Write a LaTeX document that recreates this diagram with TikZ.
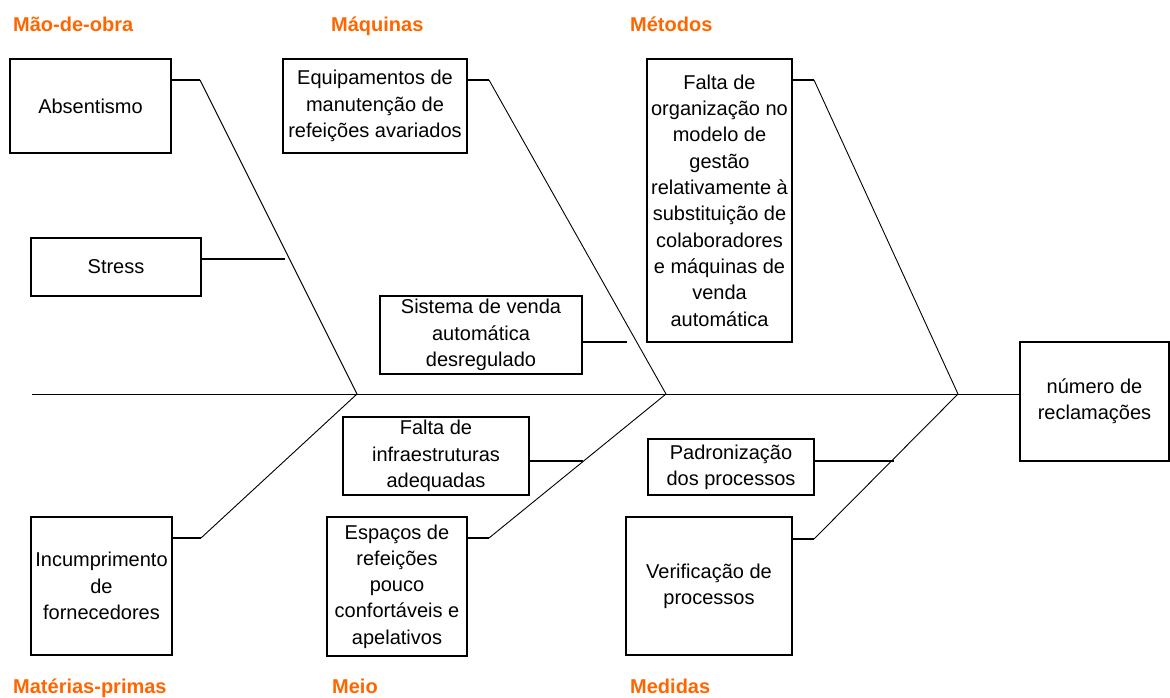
\documentclass[tikz,border=0pt]{standalone}
\usepackage{fontspec}
\setmainfont{Liberation Sans}
\definecolor{catorange}{RGB}{255,102,0}
\begin{document}
\begin{tikzpicture}[x=1pt,y=-1pt,
  box/.style={draw=black,line width=1.5pt,inner sep=0pt,align=center,
    font=\fontsize{20}{26.3}\selectfont},
  cat/.style={anchor=base west,inner sep=0pt,text=catorange,
    font=\fontsize{20}{24}\selectfont\bfseries},
  stub/.style={line width=1.4pt},
  bone/.style={line width=0.9pt}]
\useasboundingbox (0,0) rectangle (1170,698);
% category labels
\node[cat] (l1) at (13,32) {Mão-de-obra};
\node[cat] (l2) at (331,32) {Máquinas};
\node[cat] (l3) at (630,32) {Métodos};
\node[cat] (l4) at (13,693) {Matérias-primas};
\node[cat] (l5) at (332,693) {Meio};
\node[cat] (l6) at (630,693) {Medidas};
% boxes
\node[box,minimum width=161pt,minimum height=94pt] (abs) at (90.5,106) {Absentismo};
\node[box,minimum width=170pt,minimum height=58pt] (str) at (116,267) {Stress};
\node[box,minimum width=184pt,minimum height=94pt] (equ) at (375,106) {Equipamentos de\\manutenção de\\refeições avariados};
\node[box,minimum width=202pt,minimum height=78pt] (sis) at (481,335) {Sistema de venda\\automática\\desregulado};
\node[box,minimum width=145pt,minimum height=283pt] (org) at (719.5,200.5) {Falta de\\organização no\\modelo de\\gestão\\relativamente à\\substituição de\\colaboradores\\e máquinas de\\venda\\automática};
\node[box,minimum width=149pt,minimum height=119pt] (res) at (1094.5,401.5) {número de\\reclamações};
\node[box,minimum width=186pt,minimum height=78pt] (inf) at (436,456) {Falta de\\infraestruturas\\adequadas};
\node[box,minimum width=166pt,minimum height=56pt] (pad) at (731,467) {Padronização\\dos processos};
\node[box,minimum width=140pt,minimum height=139pt] (esp) at (397,586.5) {Espaços de\\refeições\\pouco\\confortáveis e\\apelativos};
\node[box,minimum width=141pt,minimum height=138pt] (inc) at (101.5,586) {Incumprimento\\de\\fornecedores};
\node[box,minimum width=166pt,minimum height=138pt] (ver) at (709,586) {Verificação de\\processos};
% coordinates
\coordinate (tail) at (32,394);
\coordinate (j1) at (357,394);
\coordinate (j2) at (666,394);
\coordinate (j3) at (958,394);
\coordinate (babs) at (200,80);
\coordinate (bstr) at (285,259);
\coordinate (bequ) at (489,80);
\coordinate (bsis) at (627,342);
\coordinate (borg) at (814,80);
\coordinate (binc) at (201,538);
\coordinate (binf) at (583,461);
\coordinate (besp) at (489,538);
\coordinate (bpad) at (894,461);
\coordinate (bver) at (814,539);
% spine
\draw[bone] (tail) -- (res.west |- tail);
% bones
\draw[stub] (abs.east |- babs) -- (babs);
\draw[bone] (babs) -- (j1);
\draw[stub] (str.east |- bstr) -- (bstr);
\draw[stub] (equ.east |- bequ) -- (bequ);
\draw[bone] (bequ) -- (j2);
\draw[stub] (sis.east |- bsis) -- (bsis);
\draw[stub] (org.east |- borg) -- (borg);
\draw[bone] (borg) -- (j3);
\draw[stub] (inc.east |- binc) -- (binc);
\draw[bone] (binc) -- (j1);
\draw[stub] (inf.east |- binf) -- (binf);
\draw[stub] (esp.east |- besp) -- (besp);
\draw[bone] (besp) -- (j2);
\draw[stub] (pad.east |- bpad) -- (bpad);
\draw[stub] (ver.east |- bver) -- (bver);
\draw[bone] (bver) -- (j3);
\end{tikzpicture}
\end{document}
